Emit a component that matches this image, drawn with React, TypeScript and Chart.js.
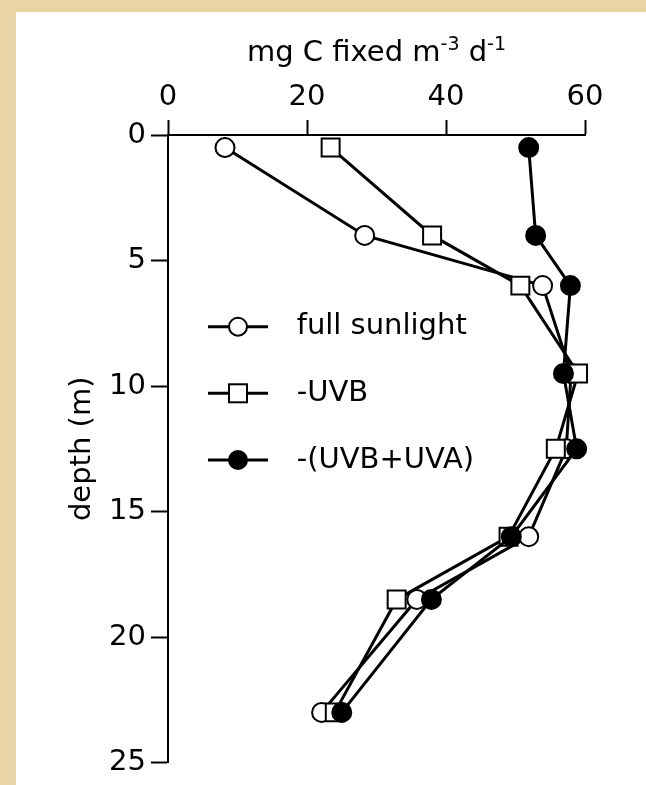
import React, { useEffect, useRef } from 'react';
import { Chart, registerables } from 'chart.js';

Chart.register(...registerables);

// ---- data (depth in m, production in mg C fixed m^-3 d^-1) ----
const depths = [0.5, 4, 6, 9.5, 12.5, 16, 18.5, 23];
const fullSunlight = [8.2, 28.3, 53.9, 58.0, 57.3, 51.9, 35.8, 22.1];
const minusUVB = [23.4, 38.0, 50.7, 59.0, 55.8, 49.0, 32.9, 24.0];
const minusUVBUVA = [51.9, 52.9, 57.9, 56.9, 58.8, 49.4, 37.9, 25.0];

const seriesLabels = ['full sunlight', '-UVB', '-(UVB+UVA)'];
const xTicks = [0, 20, 40, 60];
const yTicks = [0, 5, 10, 15, 20, 25];
const xTitleParts = [
  { text: 'mg C fixed m', sup: false },
  { text: '-3', sup: true },
  { text: ' d', sup: false },
  { text: '-1', sup: true },
];
const yTitle = 'depth (m)';

const FONT = "'DejaVu Sans', sans-serif";

const toPoints = (vals: number[]) => vals.map((v, i) => ({ x: v, y: depths[i] }));

const supTitlePlugin = {
  id: 'supTitle',
  afterDraw(chart: any) {
    const ctx = chart.ctx;
    const { left, right } = chart.chartArea;
    const mainFont = `29px ${FONT}`;
    const supFont = `19px ${FONT}`;
    ctx.save();
    ctx.fillStyle = '#000';
    ctx.textBaseline = 'alphabetic';
    ctx.textAlign = 'left';
    let total = 0;
    const widths = xTitleParts.map((p) => {
      ctx.font = p.sup ? supFont : mainFont;
      const w = ctx.measureText(p.text).width;
      total += w;
      return w;
    });
    let x = (left + right) / 2 - total / 2;
    const baseY = 49;
    xTitleParts.forEach((p, i) => {
      ctx.font = p.sup ? supFont : mainFont;
      ctx.fillText(p.text, x, p.sup ? baseY - 11 : baseY);
      x += widths[i];
    });
    ctx.restore();
  },
};

const legendPlugin = {
  id: 'inlineLegend',
  afterDraw(chart: any) {
    const ctx = chart.ctx;
    const rows = [314.7, 381.3, 448];
    const styles = ['openCircle', 'openSquare', 'filledCircle'];
    ctx.save();
    seriesLabels.forEach((label, i) => {
      const y = rows[i];
      ctx.strokeStyle = '#000';
      ctx.lineWidth = 3;
      ctx.beginPath();
      ctx.moveTo(192, y);
      ctx.lineTo(252, y);
      ctx.stroke();
      const cx = 222;
      ctx.lineWidth = 2;
      if (styles[i] === 'openSquare') {
        ctx.fillStyle = '#fff';
        ctx.fillRect(cx - 9, y - 9, 18, 18);
        ctx.strokeRect(cx - 9, y - 9, 18, 18);
      } else {
        ctx.beginPath();
        ctx.arc(cx, y, 9, 0, Math.PI * 2);
        ctx.fillStyle = styles[i] === 'filledCircle' ? '#000' : '#fff';
        ctx.fill();
        ctx.stroke();
      }
      ctx.fillStyle = '#000';
      ctx.font = `29px ${FONT}`;
      ctx.textAlign = 'left';
      ctx.textBaseline = 'middle';
      ctx.fillText(label, 280.7, y);
    });
    ctx.restore();
  },
};

export default function App() {
  const canvasRef = useRef<HTMLCanvasElement | null>(null);

  useEffect(() => {
    document.body.style.margin = '0';
    const canvas = canvasRef.current;
    if (!canvas) return;
    const common = {
      borderColor: '#000',
      borderWidth: 3,
      pointBorderColor: '#000',
      pointBorderWidth: 2,
      tension: 0,
      clip: false as any,
    };
    const chart = new Chart(canvas, {
      type: 'line',
      data: {
        datasets: [
          {
            ...common,
            label: seriesLabels[0],
            data: toPoints(fullSunlight),
            pointStyle: 'circle',
            pointRadius: 9.5,
            pointBackgroundColor: '#fff',
            order: 2,
          },
          {
            ...common,
            label: seriesLabels[1],
            data: toPoints(minusUVB),
            pointStyle: 'rect',
            pointRadius: 12.7,
            pointBackgroundColor: '#fff',
            order: 1,
          },
          {
            ...common,
            label: seriesLabels[2],
            data: toPoints(minusUVBUVA),
            pointStyle: 'circle',
            pointRadius: 9.5,
            pointBackgroundColor: '#000',
            order: 0,
          },
        ],
      },
      options: {
        animation: false,
        responsive: false,
        indexAxis: 'y',
        layout: { padding: { left: 0, top: 0, right: 61, bottom: 21 } },
        plugins: {
          legend: { display: false },
          tooltip: { enabled: false },
        },
        scales: {
          x: {
            type: 'linear',
            position: 'top',
            min: 0,
            max: 60,
            afterBuildTicks: (scale: any) => {
              scale.ticks = xTicks.map((v) => ({ value: v }));
            },
            afterFit: (scale: any) => {
              scale.height = 123;
            },
            grid: {
              display: true,
              drawOnChartArea: false,
              drawTicks: true,
              tickLength: 15,
              tickWidth: 2,
              tickColor: '#000',
            },
            border: { display: true, color: '#000', width: 2 },
            ticks: {
              color: '#000',
              font: { family: FONT, size: 29 },
              padding: 5,
              maxRotation: 0,
            },
          },
          y: {
            type: 'linear',
            position: 'left',
            reverse: true,
            min: 0,
            max: 25,
            afterBuildTicks: (scale: any) => {
              scale.ticks = yTicks.map((v) => ({ value: v }));
            },
            afterFit: (scale: any) => {
              scale.width = 152;
            },
            grid: {
              display: true,
              drawOnChartArea: false,
              drawTicks: true,
              tickLength: 17,
              tickWidth: 2,
              tickColor: '#000',
            },
            border: { display: true, color: '#000', width: 2 },
            ticks: {
              color: '#000',
              font: { family: FONT, size: 29 },
              padding: 5,
            },
            title: {
              display: true,
              text: yTitle,
              color: '#000',
              font: { family: FONT, size: 29 },
              padding: { top: 49, bottom: 0 },
            },
          },
        },
      },
      plugins: [supTitlePlugin, legendPlugin],
    } as any);
    return () => chart.destroy();
  }, []);

  return (
    <div style={{ position: 'relative', width: 646, height: 785, background: '#E9D4A6', overflow: 'hidden' }}>
      <div style={{ position: 'absolute', left: 16, top: 12, width: 630, height: 773, background: '#fff' }}>
        <canvas ref={canvasRef} width={630} height={773} style={{ width: 630, height: 773, display: 'block' }} />
      </div>
    </div>
  );
}
